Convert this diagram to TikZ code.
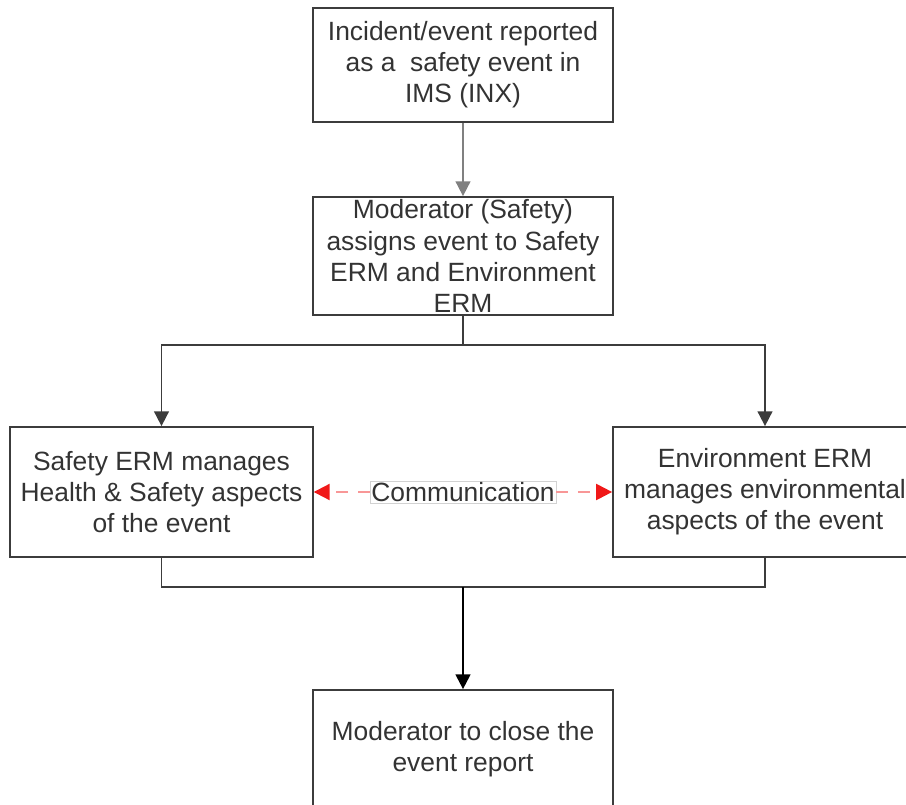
\documentclass[tikz,border=0pt]{standalone}
\usepackage{fontspec}
\setmainfont{Liberation Sans}
\usetikzlibrary{arrows.meta,positioning}
\definecolor{linegray}{HTML}{3C3C3C}
\definecolor{textgray}{HTML}{333333}
\definecolor{commred}{HTML}{F01818}
\tikzset{
  stepbox/.style={draw=linegray, line width=1.3pt, align=center, text=textgray,
    font=\fontsize{19.8}{23.3}\selectfont, minimum width=225pt},
  flowline/.style={draw=linegray, line width=1.3pt},
  flowarrow/.style={flowline, -{Triangle[length=11pt,width=11pt]}},
  commbox/.style={draw=gray!35, line width=0.6pt, inner sep=1pt, text=textgray,
    font=\fontsize{19.8}{23.3}\selectfont},
  commarrow/.style={draw=commred!45, line width=1.6pt, dash pattern=on 9pt off 7pt,
    -{Triangle[length=12pt,width=12pt,color=commred,fill=commred]}}
}
\begin{document}
\begin{tikzpicture}[x=0.75pt,y=-0.75pt]
\clip (0,0) rectangle (906,805);
\useasboundingbox (0,0) rectangle (906,805);
% Draw boxes
\node[stepbox, minimum height=85.5pt] (report) at (463,65)
  {Incident/event reported\\as a\ \ safety event in\\IMS (INX)};
\node[stepbox, minimum height=88.5pt, inner ysep=-3pt] (assign) at (463,256)
  {Moderator (Safety)\\assigns event to Safety\\ERM and Environment\\ERM};
\node[stepbox, minimum width=227pt, minimum height=97.5pt] (safety) at (161.5,492)
  {Safety ERM manages\\Health \& Safety aspects\\of the event};
\node[stepbox, minimum width=228pt, minimum height=97.5pt] (envir) at (765,492)
  {Environment ERM\\manages environmental\\aspects of the event};
\node[stepbox, minimum height=88.5pt] (close) at (463,749)
  {Moderator to close the\\event report};
\node[commbox] (comm) at (463,492) {Communication};
% Draw connectors
\coordinate (fork) at (463,345);
\coordinate (join) at (463,587);
\draw[flowarrow, draw=gray] (report) -- (assign);
\draw[flowline] (assign.south) -- (fork);
\draw[flowarrow] (fork) -| (safety.north);
\draw[flowarrow] (fork) -| (envir.north);
\draw[flowline] (safety.south) |- (join) -| (envir.south);
\draw[flowarrow, draw=black, line width=1.6pt] (join) -- (close.north);
% Draw communication
\draw[commarrow] (comm.west) -- (safety.east);
\draw[commarrow] (comm.east) -- (envir.west);
\end{tikzpicture}
\end{document}
